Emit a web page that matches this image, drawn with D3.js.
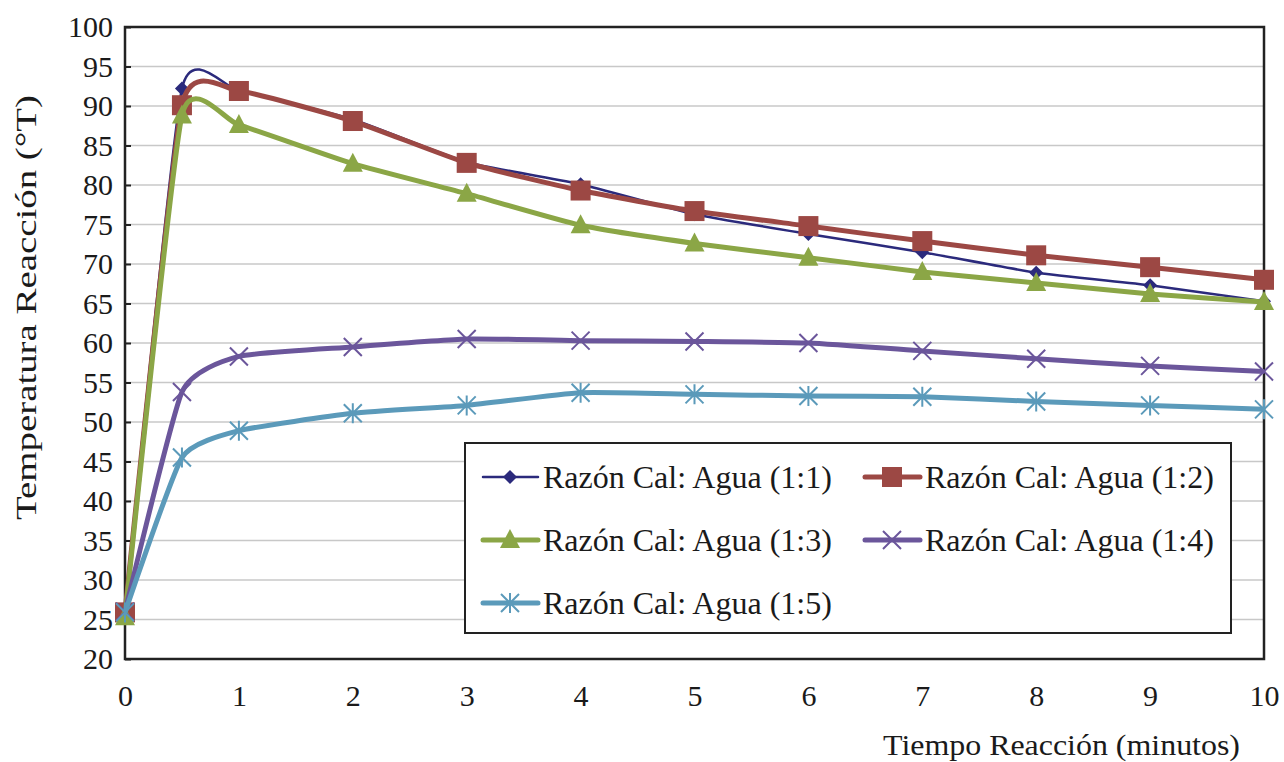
<!DOCTYPE html>
<html>
<head>
<meta charset="utf-8">
<script src="https://cdn.jsdelivr.net/npm/d3@7"></script>
<style>
	body { margin: 0; background: #fff; }
	text { font-family: "Liberation Serif", "Times New Roman", serif; fill: #1a1a1a; }
</style>
</head>
<body>
<div id="chart"></div>
<script>
// minutes
var times = [0, 0.5, 1, 2, 3, 4, 5, 6, 7, 8, 9, 10];

var seriesNames = [
	"Razón Cal: Agua (1:1)",
	"Razón Cal: Agua (1:2)",
	"Razón Cal: Agua (1:3)",
	"Razón Cal: Agua (1:4)",
	"Razón Cal: Agua (1:5)"
];

var ratio11 = [26.0, 92.2, 91.9, 88.3, 82.9, 80.1, 76.3, 73.8, 71.5, 68.9, 67.3, 65.3];
var ratio12 = [25.9, 90.1, 91.9, 88.1, 82.8, 79.3, 76.7, 74.8, 72.9, 71.1, 69.6, 68.0];
var ratio13 = [25.3, 88.8, 87.6, 82.7, 78.9, 74.9, 72.6, 70.8, 69.0, 67.6, 66.2, 65.2];
var ratio14 = [26.0, 53.8, 58.3, 59.5, 60.5, 60.3, 60.2, 60.0, 59.0, 58.0, 57.1, 56.4];
var ratio15 = [25.9, 45.5, 48.9, 51.1, 52.1, 53.7, 53.5, 53.3, 53.2, 52.6, 52.1, 51.6];

var yTicks = [20, 25, 30, 35, 40, 45, 50, 55, 60, 65, 70, 75, 80, 85, 90, 95, 100];
var xTicks = [0, 1, 2, 3, 4, 5, 6, 7, 8, 9, 10];

var colors = ["#2b2a7c", "#9c4844", "#8ba646", "#6b569b", "#5b9aba"];
var widths = [2.5, 5, 5, 5, 5];
var markers = ["diamond", "square", "triangle", "cross", "star"];

var width = 1284, height = 762;
var plotLeft = 125, plotRight = 1264, plotTop = 27, plotBottom = 659;

var svg = d3.select("#chart").append("svg")
	.attr("width", width)
	.attr("height", height);

var x = d3.scaleLinear().domain([0, 10]).range([plotLeft, plotRight]);
var y = d3.scaleLinear().domain([20, 100]).range([plotBottom, plotTop]);

// gridlines
svg.append("g")
	.selectAll("line")
	.data(yTicks.slice(1))
	.enter()
	.append("line")
	.attr("x1", plotLeft).attr("x2", plotRight)
	.attr("y1", function(d) { return y(d) })
	.attr("y2", function(d) { return y(d) })
	.attr("stroke", "#c8c8c8")
	.attr("stroke-width", 1.3);

// y ticks + labels
var yAxis = d3.axisLeft(y).tickValues(yTicks).tickSize(-6).tickPadding(12);
var gy = svg.append("g").attr("transform", "translate(" + plotLeft + ",0)").call(yAxis);
gy.select(".domain").remove();
gy.selectAll("line").attr("stroke", "#222").attr("stroke-width", 2);
gy.selectAll("text")
	.attr("font-size", 30)
	.attr("fill", "#1a1a1a");

var xAxis = d3.axisBottom(x).tickValues(xTicks).tickSize(0).tickPadding(26);
var gx = svg.append("g").attr("transform", "translate(0," + plotBottom + ")").call(xAxis);
gx.select(".domain").remove();
gx.selectAll("text")
	.attr("font-size", 30)
	.attr("fill", "#1a1a1a");

// plot border
svg.append("rect")
	.attr("x", plotLeft).attr("y", plotTop)
	.attr("width", plotRight - plotLeft).attr("height", plotBottom - plotTop)
	.attr("fill", "none")
	.attr("stroke", "#222")
	.attr("stroke-width", 2.5);

// axis titles
svg.append("text")
	.attr("transform", "translate(36," + ((95 + 520) / 2) + ") rotate(-90)")
	.attr("text-anchor", "middle")
	.attr("font-size", 30)
	.attr("textLength", 425)
	.attr("lengthAdjust", "spacingAndGlyphs")
	.text("Temperatura Reacción (°T)");

svg.append("text")
	.attr("x", 1240)
	.attr("y", 755)
	.attr("text-anchor", "end")
	.attr("font-size", 30)
	.attr("textLength", 357)
	.attr("lengthAdjust", "spacingAndGlyphs")
	.text("Tiempo Reacción (minutos)");

var allSeries = [ratio11, ratio12, ratio13, ratio14, ratio15];

var line = d3.line()
	.x(function(d) { return x(d.t) })
	.y(function(d) { return y(d.v) })
	.curve(d3.curveCardinal.tension(0.5));

function drawMarker(g, kind, color, cx, cy) {
	if (kind == "diamond") {
		g.append("path")
			.attr("d", "M" + cx + "," + (cy - 7) + "L" + (cx + 7) + "," + cy + "L" + cx + "," + (cy + 7) + "L" + (cx - 7) + "," + cy + "Z")
			.attr("fill", color);
	} else if (kind == "square") {
		g.append("rect")
			.attr("x", cx - 10).attr("y", cy - 10)
			.attr("width", 20).attr("height", 20)
			.attr("fill", color);
	} else if (kind == "triangle") {
		g.append("path")
			.attr("d", "M" + cx + "," + (cy - 11) + "L" + (cx + 10) + "," + (cy + 8) + "L" + (cx - 10) + "," + (cy + 8) + "Z")
			.attr("fill", color);
	} else if (kind == "cross") {
		g.append("path")
			.attr("d", "M" + (cx - 9) + "," + (cy - 9) + "L" + (cx + 9) + "," + (cy + 9) + "M" + (cx + 9) + "," + (cy - 9) + "L" + (cx - 9) + "," + (cy + 9))
			.attr("stroke", color).attr("stroke-width", 2).attr("fill", "none");
	} else if (kind == "star") {
		g.append("path")
			.attr("d", "M" + (cx - 9) + "," + (cy - 9) + "L" + (cx + 9) + "," + (cy + 9) + "M" + (cx + 9) + "," + (cy - 9) + "L" + (cx - 9) + "," + (cy + 9) + "M" + cx + "," + (cy - 10) + "L" + cx + "," + (cy + 10))
			.attr("stroke", color).attr("stroke-width", 2).attr("fill", "none");
	}
}

allSeries.forEach(function(vals, i) {
	var pts = vals.map(function(v, j) { return {t: times[j], v: v} });
	var g = svg.append("g");
	g.append("path")
		.attr("d", line(pts))
		.attr("fill", "none")
		.attr("stroke", colors[i])
		.attr("stroke-width", widths[i])
		.attr("stroke-linejoin", "round");
	pts.forEach(function(p) {
		drawMarker(g, markers[i], colors[i], x(p.t), y(p.v));
	});
});

// legend
var legend = svg.append("g");
legend.append("rect")
	.attr("x", 465).attr("y", 443)
	.attr("width", 766).attr("height", 190)
	.attr("fill", "#fff")
	.attr("stroke", "#222")
	.attr("stroke-width", 2);

var legendPos = [[483, 477], [865, 477], [483, 540], [865, 540], [483, 603]];
seriesNames.forEach(function(name, i) {
	var lx = legendPos[i][0], ly = legendPos[i][1];
	legend.append("line")
		.attr("x1", lx).attr("x2", lx + 55)
		.attr("y1", ly).attr("y2", ly)
		.attr("stroke", colors[i])
		.attr("stroke-width", widths[i])
		.attr("stroke-linecap", "round");
	drawMarker(legend, markers[i], colors[i], lx + 27, ly);
	legend.append("text")
		.attr("x", lx + 60)
		.attr("y", ly + 11)
		.attr("font-size", 32)
		.text(name);
});
</script>
</body>
</html>
